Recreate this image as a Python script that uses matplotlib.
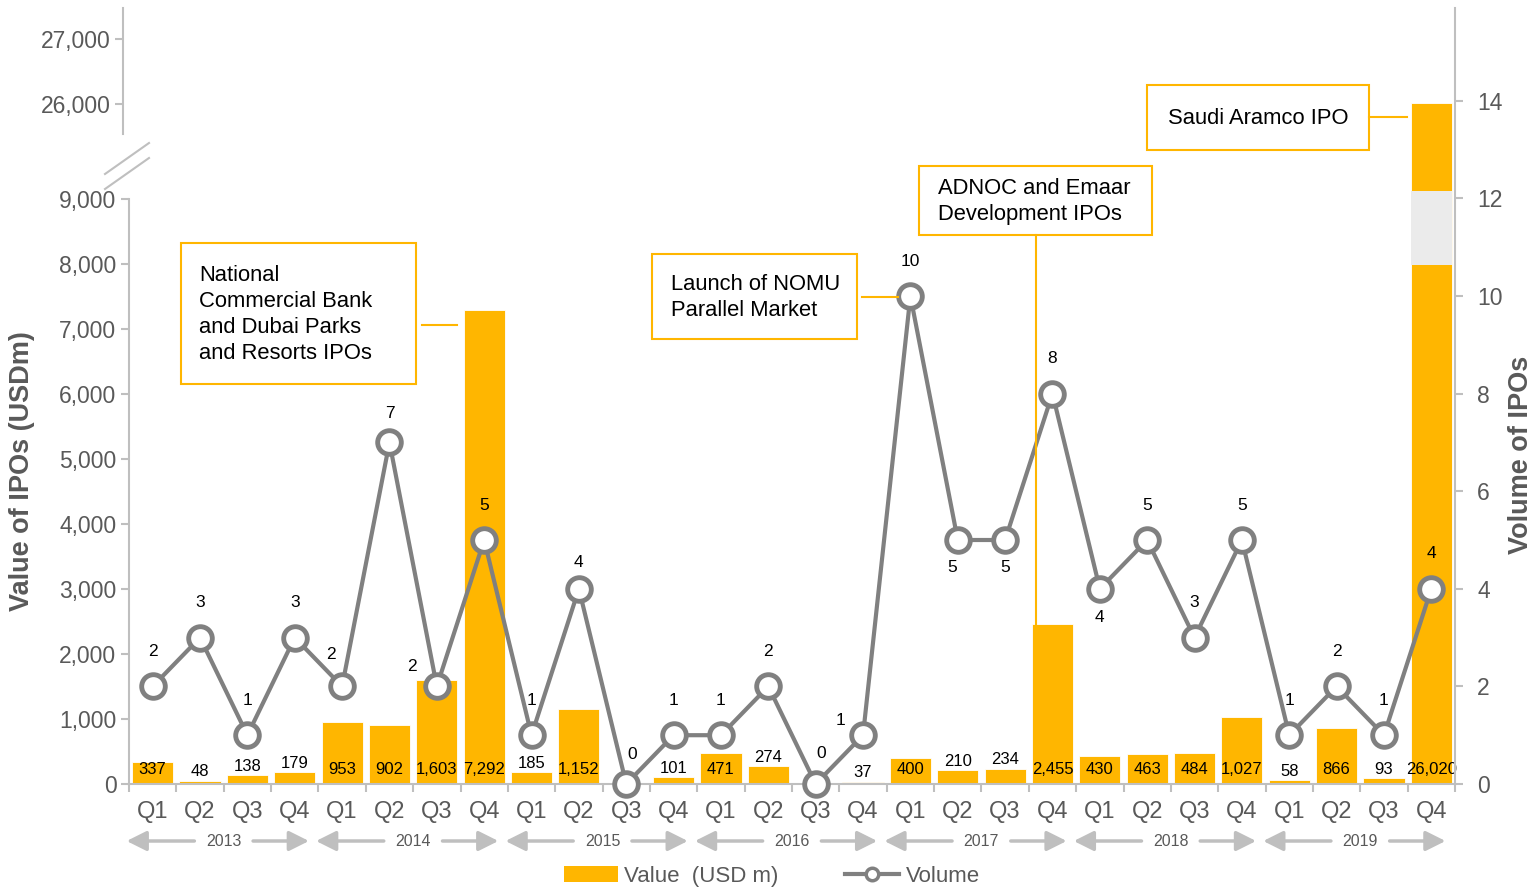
import numpy as np
import matplotlib.pyplot as plt
from matplotlib.patches import Rectangle, Patch
from matplotlib.lines import Line2D
from matplotlib.ticker import FuncFormatter

plt.rcParams['font.family'] = ['Liberation Sans', 'DejaVu Sans']

# data
quarters = ["Q1", "Q2", "Q3", "Q4"] * 7
years = ["2013", "2014", "2015", "2016", "2017", "2018", "2019"]
value_usdm = [337, 48, 138, 179, 953, 902, 1603, 7292,
              185, 1152, 0, 101, 471, 274, 0, 37,
              400, 210, 234, 2455, 430, 463, 484, 1027,
              58, 866, 93, 26020]
volume = [2, 3, 1, 3, 2, 7, 2, 5,
          1, 4, 0, 1, 1, 2, 0, 1,
          10, 5, 5, 8, 4, 5, 3, 5,
          1, 2, 1, 4]

YELLOW = '#FFB600'
GREY = '#808080'
LGREY = '#BFBFBF'
TXT = '#595959'
W, H = 1539, 888


def fx(x):
    return x / W


def fy(y):
    return 1 - y / H


# broken value scale: value -> pixel height above the x axis
V_KNOTS = [-1000, 0, 9123, 25552, 40000]
P_KNOTS = [-65, 0, 593, 650.3, 1598.1]


def fwd(v):
    return np.interp(v, V_KNOTS, P_KNOTS)


def inv(p):
    return np.interp(p, P_KNOTS, V_KNOTS)


fig = plt.figure(figsize=(W / 100, H / 100), dpi=100)
ax = fig.add_axes([fx(129), fy(784), fx(1455 - 129), (784 - 8) / H])
ax.set_yscale('function', functions=(fwd, inv))

x = np.arange(len(value_usdm))
ax.bar(x, value_usdm, width=0.87, color=YELLOW, edgecolor='white', linewidth=0.6, zorder=2)
# break band on the Aramco bar
ax.bar(x[-1], 9123 - 7985, bottom=7985, width=0.87, color='#EBEBEB', zorder=3)
ax.set_ylim(0, 27468)
ax.set_xlim(-0.5, len(x) - 0.5)

ax.set_yticks(np.arange(0, 9001, 1000))
ax.yaxis.set_major_formatter(FuncFormatter(lambda v, _: f'{v:,.0f}'))
ax.tick_params(axis='y', colors=LGREY, labelcolor=TXT, labelsize=16.5, length=6, width=1.5, pad=3)
ax.spines['left'].set_bounds(0, 9000)
for s in ['left', 'bottom']:
    ax.spines[s].set_color(LGREY)
    ax.spines[s].set_linewidth(1.5)
ax.spines['top'].set_visible(False)
ax.spines['right'].set_visible(False)

# x ticks: marks on the boundaries, labels centred
ax.set_xticks(np.arange(-0.5, len(x), 1))
ax.set_xticklabels([])
ax.set_xticks(x, minor=True)
ax.set_xticklabels(quarters, minor=True)
ax.tick_params(axis='x', which='major', colors=LGREY, length=6, width=1.5)
ax.tick_params(axis='x', which='minor', length=0, labelsize=17, labelcolor=TXT, pad=12)

# value labels
for i, v in enumerate(value_usdm):
    if v == 0:
        continue
    if v < 300:
        ax.annotate(f'{v:,}', (i, v), xytext=(0, 1), textcoords='offset points',
                    ha='center', va='bottom', fontsize=12, color='black', zorder=5)
    else:
        ax.annotate(f'{v:,}', (i, 0), xytext=(0, 10.5), textcoords='offset points',
                    ha='center', va='center', fontsize=12, color='black', zorder=5)

# year arrows
tr = ax.get_xaxis_transform()
ay = (784 - 841) / 776
arrow = dict(arrowstyle='-|>,head_length=0.6,head_width=0.3', color=LGREY, lw=2.5,
             mutation_scale=20, shrinkA=0, shrinkB=0)
for k, yr in enumerate(years):
    c = 4 * k + 1.5
    ax.text(c, ay, yr, transform=tr, ha='center', va='center', fontsize=11.5, color=TXT)
    ax.annotate('', xy=(4 * k - 0.55, ay), xytext=(c - 0.62, ay), xycoords=tr, textcoords=tr,
                arrowprops=arrow, annotation_clip=False)
    ax.annotate('', xy=(4 * k + 3.3, ay), xytext=(c + 0.62, ay), xycoords=tr, textcoords=tr,
                arrowprops=arrow, annotation_clip=False)

# volume on right axis
ax2 = ax.twinx()
ax2.plot(x, volume, color=GREY, lw=3, marker='o', ms=17, mfc='white', mec=GREY, mew=3.5, zorder=4,
         clip_on=False)
ax2.set_ylim(0, 776 / 48.8)
ax2.set_yticks(np.arange(0, 15, 2))
ax2.tick_params(axis='y', colors=LGREY, labelcolor=TXT, labelsize=16.5, length=6, width=1.5, pad=10)
for s in ['top', 'left', 'bottom']:
    ax2.spines[s].set_visible(False)
ax2.spines['right'].set_color(LGREY)
ax2.spines['right'].set_linewidth(1.5)

# label offsets in pixels (dx, dy up); default straight above
label_off = {4: (-11, 32), 5: (0, 29), 6: (-25, 20), 9: (0, 26), 10: (6, 30), 14: (6, 31),
             15: (-23, 15), 17: (-6, -28), 18: (0, -28), 20: (0, -29)}
for i, n in enumerate(volume):
    dx, dy = label_off.get(i, (0, 35))
    ax2.annotate(str(n), (i, n), xytext=(dx * 0.72, dy * 0.72), textcoords='offset points',
                 ha='center', va='center', fontsize=12.5, color='black', zorder=6)

# upper part of the broken left axis
axu = fig.add_axes([fx(123), fy(134), 0.001, 126 / H])
axu.set_ylim(25547, 27468)
axu.set_yticks([26000, 27000])
axu.yaxis.set_major_formatter(FuncFormatter(lambda v, _: f'{v:,.0f}'))
axu.set_xticks([])
axu.patch.set_visible(False)
for s in ['top', 'right', 'bottom']:
    axu.spines[s].set_visible(False)
axu.spines['left'].set_color(LGREY)
axu.spines['left'].set_linewidth(1.5)
axu.tick_params(axis='y', colors=LGREY, labelcolor=TXT, labelsize=16.5, length=6, width=1.5, pad=3)

# break marks
for y0 in (174, 189):
    fig.add_artist(Line2D([fx(105), fx(149)], [fy(y0), fy(y0 - 31)], color=LGREY, lw=1.5))

# axis titles
fig.text(fx(22), fy(471), 'Value of IPOs (USDm)', rotation=90, ha='center', va='center',
         fontsize=19.5, fontweight='bold', color=TXT)
fig.text(fx(1521), fy(455), 'Volume of IPOs', rotation=90, ha='center', va='center',
         fontsize=19.5, fontweight='bold', color=TXT)

# callout boxes
boxes = [
    ((181, 243, 416, 384), 199, 'National\nCommercial Bank\nand Dubai Parks\nand Resorts IPOs'),
    ((652, 254, 857, 339), 671, 'Launch of NOMU\nParallel Market'),
    ((919, 166, 1152, 235), 938, 'ADNOC and Emaar\nDevelopment IPOs'),
    ((1147, 85, 1369, 150), 1168, 'Saudi Aramco IPO'),
]
for (x0, y0, x1, y1), tx, txt in boxes:
    fig.add_artist(Rectangle((fx(x0), fy(y1)), fx(x1 - x0), (y1 - y0) / H, transform=fig.transFigure,
                             facecolor='white', edgecolor=YELLOW, lw=1.5, zorder=5))
    fig.text(fx(tx), fy((y0 + y1) / 2 + 1), txt, ha='left', va='center', fontsize=15.8,
             linespacing=1.33, color='black', zorder=6)

connectors = [((422, 325), (457, 325)), ((862, 297), (898, 297)),
              ((1036, 235), (1036, 625)), ((1369, 117), (1407, 117))]
for (x0, y0), (x1, y1) in connectors:
    fig.add_artist(Line2D([fx(x0), fx(x1)], [fy(y0), fy(y1)], color=YELLOW, lw=1.5, zorder=5))

# legend
handles = [Patch(facecolor=YELLOW, label='Value  (USD m)'),
           Line2D([], [], color=GREY, lw=3, marker='o', ms=9, mfc='white', mec=GREY, mew=2.5,
                  label='Volume')]
fig.legend(handles=handles, loc='center', bbox_to_anchor=(fx(772), fy(876)), ncol=2,
           frameon=False, fontsize=16, labelcolor=TXT, handlelength=2.4, handletextpad=0.3,
           columnspacing=3, borderpad=0)

fig.savefig('out.png', dpi=100)
